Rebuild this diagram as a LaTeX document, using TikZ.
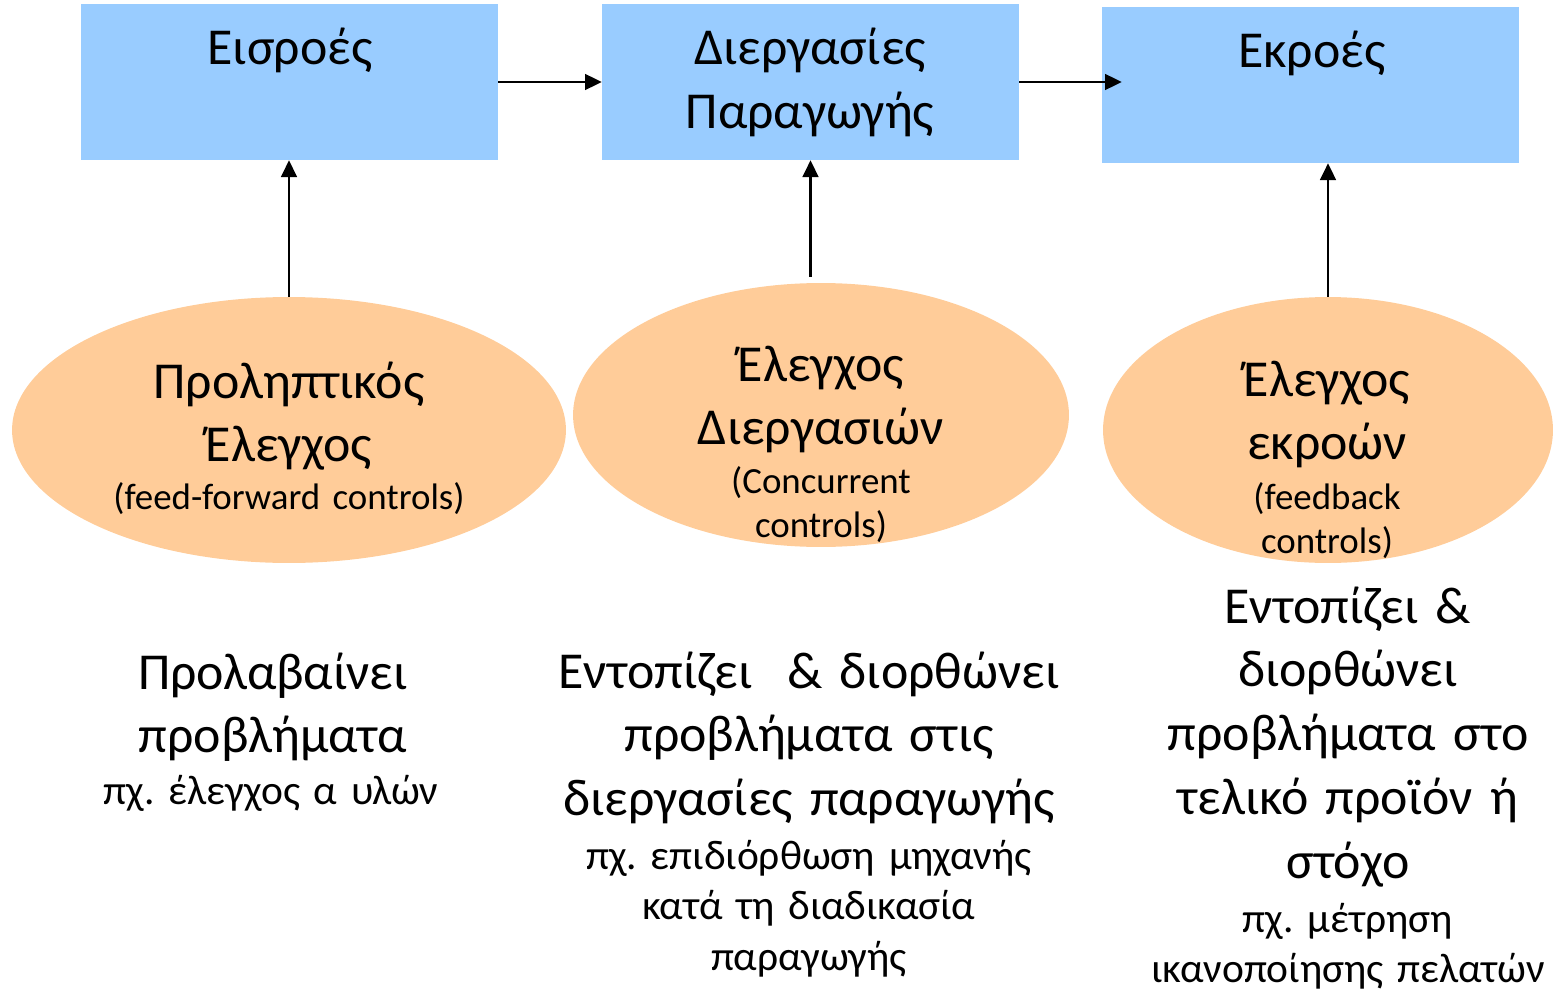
\documentclass[tikz,border=0pt]{standalone}
\usepackage{fontspec}
\setmainfont{Carlito}
\frenchspacing
\usetikzlibrary{shapes.geometric,arrows.meta}
\definecolor{stageblue}{HTML}{99CCFF}
\definecolor{ctrlpeach}{HTML}{FFCC99}
\tikzset{
	stage/.style={fill=stageblue, minimum width=8.34cm, minimum height=3.12cm, inner sep=0},
	ctrl/.style={ellipse, fill=ctrlpeach, inner sep=0},
	big/.style={font=\fontsize{29.5}{36.4}\selectfont, text width=11cm, align=center, inner sep=0, anchor=base},
	tag/.style={font=\fontsize{21}{25.5}\selectfont, text width=8cm, align=center, inner sep=0, anchor=base},
	eg/.style={font=\fontsize{23.6}{29}\selectfont, text width=10cm, align=center, inner sep=0, anchor=base},
	flow/.style={-{Triangle[length=9.5pt,width=9pt]}, line width=1.3pt},
}

\begin{document}
\begin{tikzpicture}[x=0.02cm, y=-0.02cm]
	\useasboundingbox (0,0) rectangle (1555,990);

	\node[stage] (b1) at (289.5,82) {};
	\node[stage] (b2) at (810.5,82) {};
	\node[stage] (b3) at (1310.5,85) {};

	\node[ctrl, minimum width=11.08cm, minimum height=5.32cm] (e1) at (289,430) {};
	\node[ctrl, minimum width=9.92cm, minimum height=5.28cm] (e2) at (821,415) {};
	\node[ctrl, minimum width=9cm, minimum height=5.32cm] (e3) at (1328,430) {};

	\node[big] (b1t) at (290,65) {Εισροές};
	\node[big] (b2t) at (810,65) {Διεργασίες\\Παραγωγής};
	\node[big] (b3t) at (1312,68) {Εκροές};

	\node[big] (e1t) at (289,398) {Προληπτικός\\Έλεγχος};
	\node[tag] (e1s) at (289,509) {(feed-forward controls)};
	\node[big] (e2t) at (821,381) {Έλεγχος\\Διεργασιών};
	\node[tag] (e2s) at (821,493) {(Concurrent\\controls)};
	\node[big] (e3t) at (1327,396) {Έλεγχος\\εκροών};
	\node[tag] (e3s) at (1327,509) {(feedback\\controls)};

	\node[big] (n1) at (273,689) {Προλαβαίνει\\προβλήματα};
	\node[eg] (n1e) at (271,804) {πχ. έλεγχος α υλών};
	\node[big] (n2) at (809,688) {Εντοπίζει\ \ \& διορθώνει\\προβλήματα στις\\διεργασίες παραγωγής};
	\node[eg] (n2e) at (809,869) {πχ. επιδιόρθωση μηχανής\\κατά τη διαδικασία\\παραγωγής};
	\node[big] (n3) at (1348,623) {Εντοπίζει \&\\διορθώνει\\προβλήματα στο\\τελικό προϊόν ή\\στόχο};
	\node[eg] (n3e) at (1348,932) {πχ. μέτρηση\\ικανοποίησης πελατών};

	\draw[flow] (b1) -- (b2);
	\draw[flow] (b2) -- ([xshift=0.4cm]b2.east -| b3.west);
	\draw[flow] (e1.north) -- (e1.north |- b1.south);
	\draw[flow] ([yshift=0.12cm]e2.north -| b2.south) -- (b2.south);
	\draw[flow] (e3.north) -- (e3.north |- b3.south);
\end{tikzpicture}
\end{document}
